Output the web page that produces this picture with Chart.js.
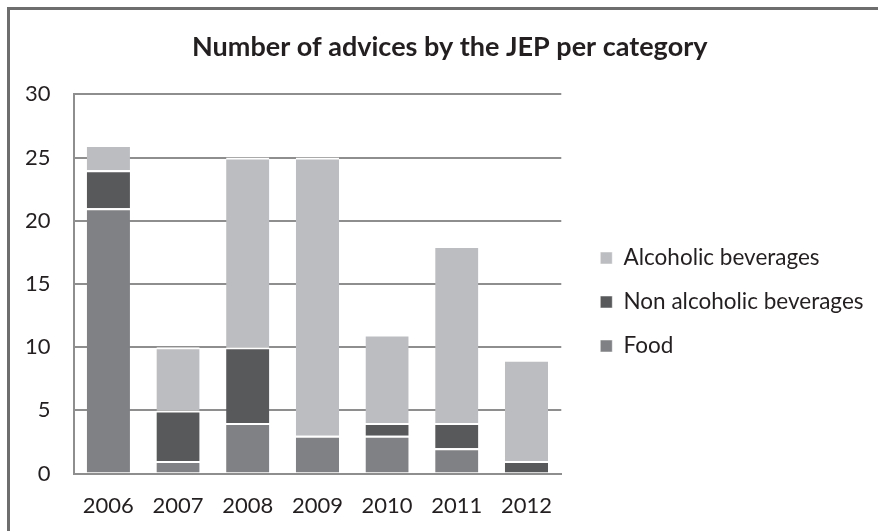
<!DOCTYPE html>
<html>
<head>
<meta charset="utf-8">
<script src="https://cdn.jsdelivr.net/npm/chart.js@4/dist/chart.umd.min.js"></script>
<style>
    html, body { margin: 0; padding: 0; background: #fff; }
    #wrap { position: relative; width: 878px; height: 531px; overflow: hidden; }
    #frame {
        position: absolute; left: 7px; top: 7px; width: 900px; height: 560px;
        border-left: 3px solid #6e6e6e; border-top: 3px solid #6e6e6e;
        box-sizing: border-box;
    }
    #chart { position: absolute; left: 0; top: 0; }
</style>
</head>
<body>
<div id="wrap">
    <div id="frame"></div>
    <canvas id="chart" width="878" height="531"></canvas>
</div>
<script>
// Data
const years = ['2006', '2007', '2008', '2009', '2010', '2011', '2012'];
const food = [21, 1, 4, 3, 3, 2, 0];
const nonAlcoholic = [3, 4, 6, 0, 1, 2, 1];
const alcoholic = [2, 5, 15, 22, 7, 14, 8];
const yTicks = [0, 5, 10, 15, 20, 25, 30];

const TEXT = '#231f20';
const GRID = '#8e8e8e';
const FONT = 'Lato, "Open Sans", sans-serif';

const segment = (label, data, color) => ({
    label,
    data,
    backgroundColor: color,
    borderColor: '#ffffff',
    borderWidth: { top: 2, left: 0, right: 0, bottom: 0 },
    borderSkipped: false,
    barPercentage: 0.62,
    categoryPercentage: 1.0,
});

// nudge title / legend boxes so they sit where the original ones do
const boxShift = {
    id: 'boxShift',
    afterLayout(chart, args, opts) {
        if (chart.titleBlock) {
            chart.titleBlock.left += opts.titleDx;
            chart.titleBlock.right += opts.titleDx;
        }
        if (chart.legend) {
            chart.legend.top += opts.legendDy;
            chart.legend.bottom += opts.legendDy;
        }
    },
};

new Chart(document.getElementById('chart'), {
    type: 'bar',
    data: {
        labels: years,
        datasets: [
            segment('Food', food, '#808184'),
            segment('Non alcoholic beverages', nonAlcoholic, '#58595b'),
            segment('Alcoholic beverages', alcoholic, '#bcbdc0'),
        ],
    },
    plugins: [boxShift],
    options: {
        responsive: false,
        animation: false,
        layout: { padding: { left: 2, right: 4.5, top: 0, bottom: -7 } },
        plugins: {
            boxShift: { titleDx: 12, legendDy: 33 },
            title: {
                display: true,
                text: 'Number of advices by the JEP per category',
                color: TEXT,
                font: { family: FONT, size: 27, weight: 'bold' },
                padding: { top: 31, bottom: 31 },
            },
            legend: {
                position: 'right',
                reverse: true,
                maxWidth: 400,
                labels: {
                    color: TEXT,
                    font: { family: FONT, size: 22.5 },
                    boxWidth: 12,
                    boxHeight: 12,
                    padding: 21.5,
                },
            },
            tooltip: { enabled: false },
        },
        scales: {
            x: {
                stacked: true,
                grid: { display: false, drawTicks: false },
                border: { color: GRID, width: 2 },
                ticks: { color: TEXT, font: { family: FONT, size: 22 }, padding: 19 },
            },
            y: {
                stacked: true,
                min: 0,
                max: 30,
                afterBuildTicks: (scale) => { scale.ticks = yTicks.map(v => ({ value: v })); },
                grid: { color: GRID, lineWidth: 2, drawTicks: false },
                border: { color: GRID, width: 2 },
                ticks: { color: TEXT, font: { family: FONT, size: 22 }, padding: 23 },
            },
            // spacer between plot area and legend
            gap: {
                position: 'right',
                display: true,
                grid: { display: false, drawTicks: false },
                border: { display: false },
                ticks: { display: false },
                afterFit: (scale) => { scale.width = 17.5; },
            },
        },
    },
});
</script>
</body>
</html>
